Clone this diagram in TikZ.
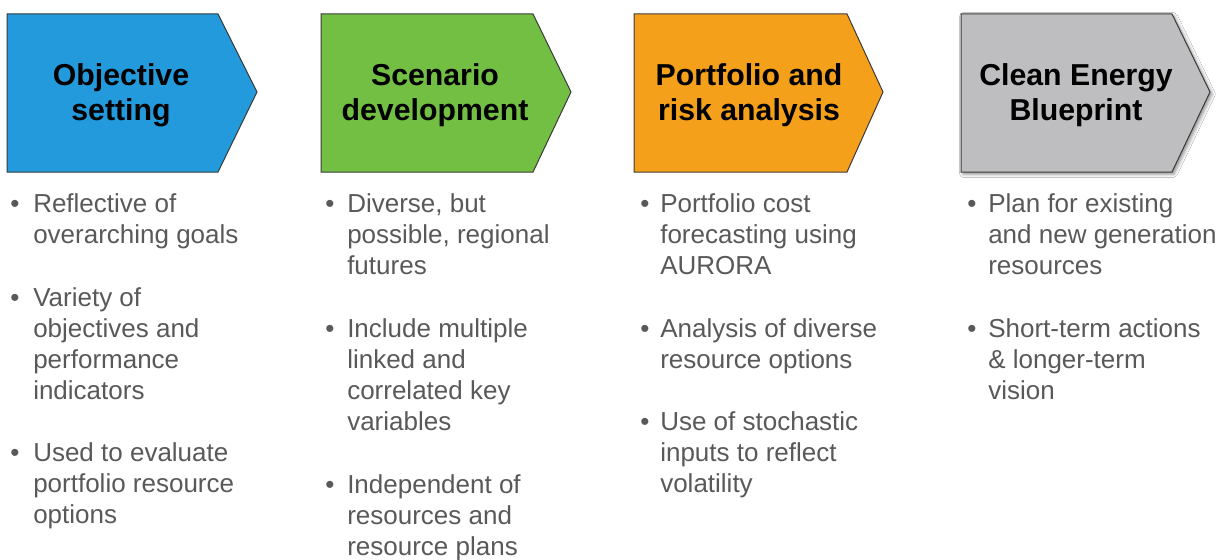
\documentclass[tikz,border=0pt]{standalone}
\usepackage{fontspec}
\setmainfont{Liberation Sans}
\usetikzlibrary{shadows.blur}
\definecolor{cblue}{HTML}{229ADB}
\definecolor{cgreen}{HTML}{72BF44}
\definecolor{corange}{HTML}{F5A01A}
\definecolor{cgrey}{HTML}{BEBEC0}
\definecolor{txtgrey}{HTML}{595959}
\definecolor{edgecol}{HTML}{3A3A3A}
\begin{document}
\begin{tikzpicture}[x=0.75pt,y=-0.75pt,
  chevron/.style={draw=edgecol,line width=0.75pt,line join=miter},
  title/.style={inner sep=0pt,anchor=base,text=black,font=\fontsize{22.7}{26.5}\selectfont\bfseries},
  item/.style={inner sep=0pt,anchor=base west,text=txtgrey,font=\fontsize{19.5}{23.25}\selectfont},
  dot/.style={inner sep=0pt,anchor=base,text=txtgrey,font=\fontsize{19.5}{23.25}\selectfont}]
\fill[white] (0,0) rectangle (1220,560);
\useasboundingbox (0,0) rectangle (1220,560);

% chevrons
\draw[chevron,fill=cblue] (7,14) -- (218,14) -- (257,92) -- (218,172) -- (7,172) -- cycle;
\draw[chevron,fill=cgreen] (321,14) -- (533,14) -- (571,92) -- (533,172) -- (321,172) -- cycle;
\draw[chevron,fill=corange] (634,14) -- (847,14) -- (883,92) -- (847,172) -- (634,172) -- cycle;
\draw[chevron,fill=cgrey,blur shadow={shadow xshift=1.5pt,shadow yshift=-1.5pt,shadow blur radius=2.5pt,shadow opacity=45}] (961,14) -- (1172,14) -- (1210,92) -- (1172,172) -- (961,172) -- cycle;

% titles
\node[title] (t1) at (121,85) {\parbox[t]{190pt}{\centering Objective\\setting}};
\node[title] (t2) at (435,85) {\parbox[t]{190pt}{\centering Scenario\\development}};
\node[title] (t3) at (749,85) {\parbox[t]{190pt}{\centering Portfolio and\\risk analysis}};
\node[title] (t4) at (1076,85) {\parbox[t]{190pt}{\centering Clean Energy\\Blueprint}};

% column 1
\node[dot] (b11) at (15,212) {•};
\node[item] (i11) at (33,212) {\parbox[t]{200pt}{\raggedright Reflective of\\overarching goals}};
\node[dot] (b12) at (15,306) {•};
\node[item] (i12) at (33,306) {\parbox[t]{200pt}{\raggedright Variety of\\objectives and\\performance\\indicators}};
\node[dot] (b13) at (15,461) {•};
\node[item] (i13) at (33,461) {\parbox[t]{200pt}{\raggedright Used to evaluate\\portfolio resource\\options}};

% column 2
\node[dot] (b21) at (330,212) {•};
\node[item] (i21) at (347,212) {\parbox[t]{200pt}{\raggedright Diverse, but\\possible, regional\\futures}};
\node[dot] (b22) at (330,337) {•};
\node[item] (i22) at (347,337) {\parbox[t]{200pt}{\raggedright Include multiple\\linked and\\correlated key\\variables}};
\node[dot] (b23) at (330,493) {•};
\node[item] (i23) at (347,493) {\parbox[t]{200pt}{\raggedright Independent of\\resources and\\resource plans}};

% column 3
\node[dot] (b31) at (645,212) {•};
\node[item] (i31) at (660,212) {\parbox[t]{200pt}{\raggedright Portfolio cost\\forecasting using\\AURORA}};
\node[dot] (b32) at (645,337) {•};
\node[item] (i32) at (660,337) {\parbox[t]{200pt}{\raggedright Analysis of diverse\\resource options}};
\node[dot] (b33) at (645,430) {•};
\node[item] (i33) at (660,430) {\parbox[t]{200pt}{\raggedright Use of stochastic\\inputs to reflect\\volatility}};

% column 4
\node[dot] (b41) at (972,212) {•};
\node[item] (i41) at (988,212) {\parbox[t]{200pt}{\raggedright Plan for existing\\and new generation\\resources}};
\node[dot] (b42) at (972,337) {•};
\node[item] (i42) at (988,337) {\parbox[t]{200pt}{\raggedright Short-term actions\\\& longer-term\\vision}};
\end{tikzpicture}
\end{document}
